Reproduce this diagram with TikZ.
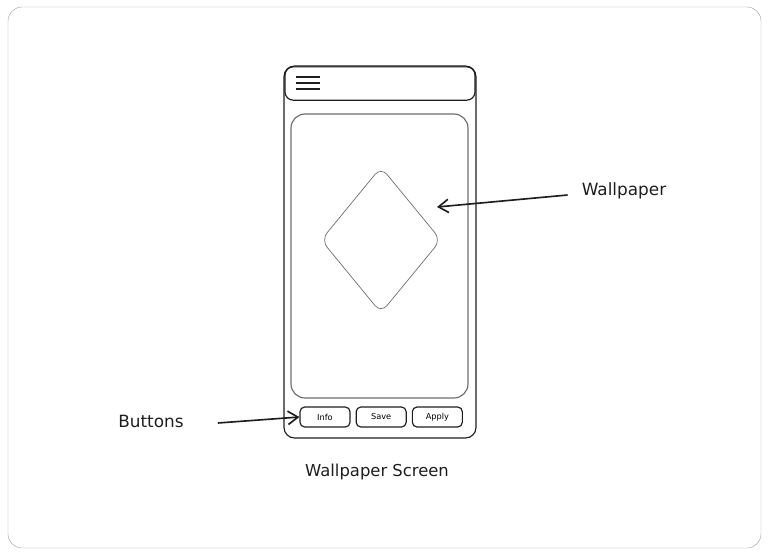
\documentclass[tikz,border=0pt]{standalone}
\usepackage{fontspec}
\setmainfont{DejaVu Sans}
\usetikzlibrary{arrows.meta,positioning,shapes.geometric}
\definecolor{ink}{HTML}{1E1E1E}
\definecolor{soft}{HTML}{6E6E6E}
\tikzset{>={Straight Barb[length=3mm,width=4mm]},line join=round}
\tikzset{box/.style={draw=ink,line width=1pt,rounded corners=4pt,inner sep=0pt}}
\tikzset{btn/.style={box,minimum width=15mm,minimum height=6mm,font=\scriptsize}}
\tikzset{label/.style={font=\Large,text=ink}}

\begin{document}
\begin{tikzpicture}[x=0.3mm,y=-0.3mm]
        \useasboundingbox (0,0) rectangle (768,555);
        \draw[gray!70,rounded corners=12pt] (8,7) rectangle (761,548);
        % phone body
        \node[box,rounded corners=9pt,minimum width=57.6mm,minimum height=111.6mm] (phone) at (380,252) {};
        \node[box,rounded corners=7pt,minimum width=57mm,minimum height=10mm] (topbar) at (380,83.5) {};
        \foreach \y in {77,83,89}
            \draw[ink,line width=0.9pt] (296,\y) -- (320,\y);
        \node[box,draw=soft,rounded corners=12pt,minimum width=53.1mm,minimum height=85.2mm] (screen) at (379.5,256) {};
        \node[diamond,draw=soft,line width=0.6pt,rounded corners=8pt,minimum width=36mm,minimum height=43.8mm,inner sep=0pt] (art) at (381,240) {};
        % buttons
        \node[btn] (info) at (325,417) {Info};
        \node[btn,right=1.5mm of info] (save) {Save};
        \node[btn,right=1.5mm of save] (apply) {Apply};
        % labels
        \node[label] (wplabel) at (624,191) {Wallpaper};
        \node[label] (btnlabel) at (151,421) {Buttons};
        \node[label,font=\fontsize{14}{16}\selectfont] (title) at (377,472) {Wallpaper Screen};
        \coordinate (wptip) at (437,207);
        \draw[->,ink,line width=1.4pt] (wplabel.west) ++(-10,4) -- (wptip);
        \draw[->,ink,line width=1.4pt] (btnlabel.east) ++(30,2) -- (info.west);
    \end{tikzpicture}
\end{document}
